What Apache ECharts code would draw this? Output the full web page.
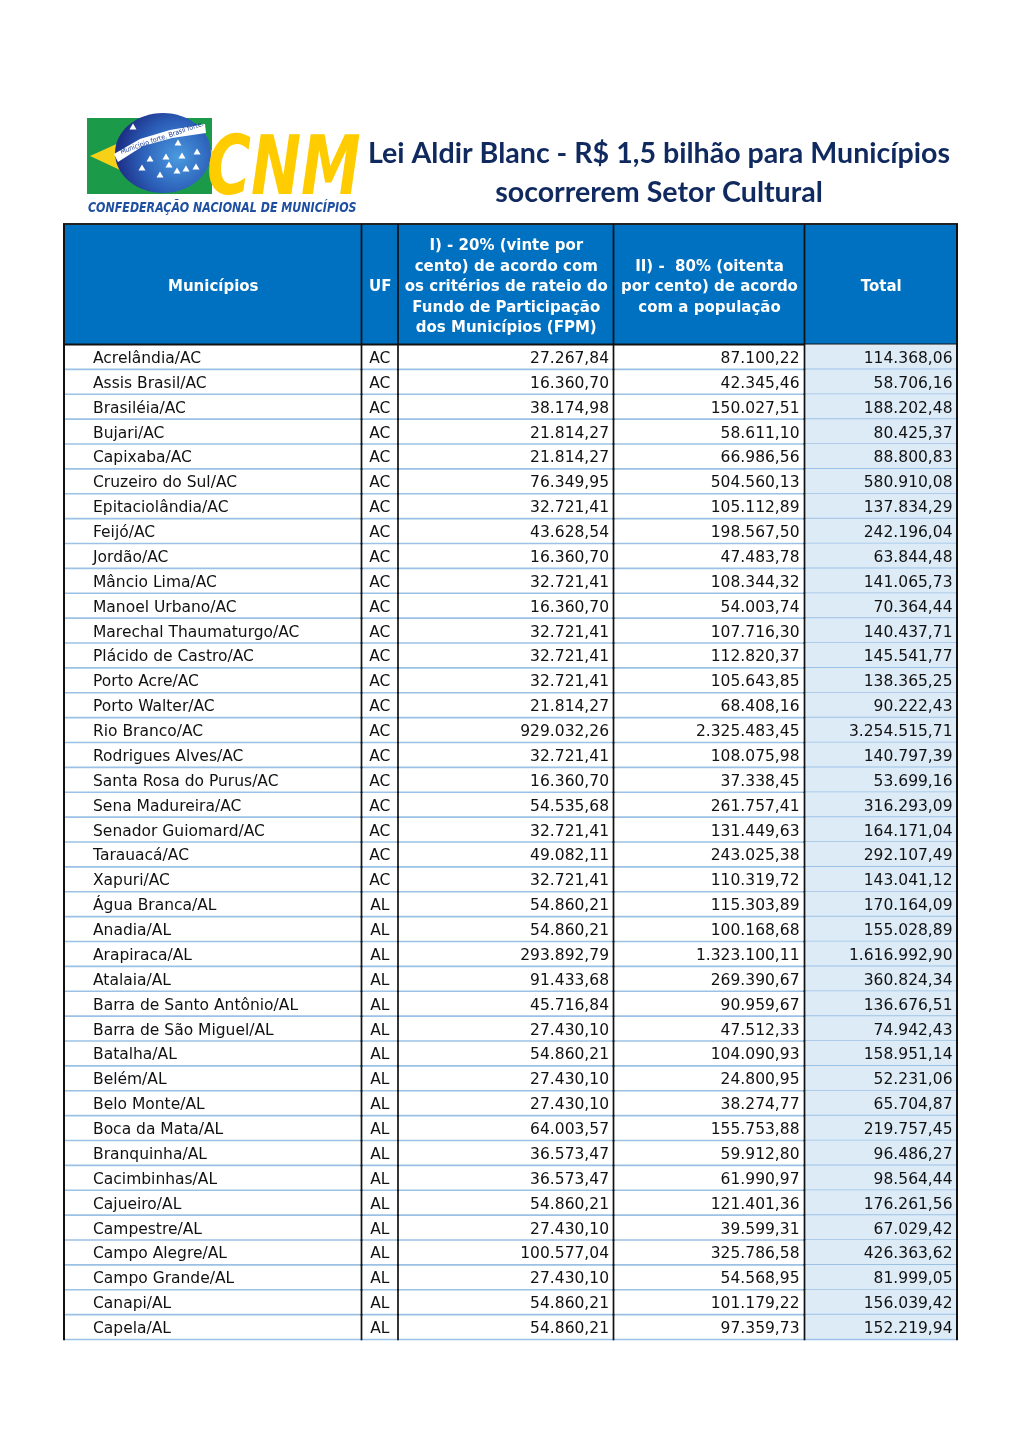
<!DOCTYPE html>
<html><head><meta charset="utf-8">
<script src="https://cdn.jsdelivr.net/npm/echarts@6/dist/echarts.min.js"></script>
<style>html,body{margin:0;padding:0;background:#fff}#c{width:1020px;height:1442px}</style>
</head><body><div id="c"></div>
<script>
const titleLines = ['Lei Aldir Blanc - R$ 1,5 bilhão para Municípios', 'socorrerem Setor Cultural'];
const headers = [
  'Municípios',
  'UF',
  'I) - 20% (vinte por\ncento) de acordo com\nos critérios de rateio do\nFundo de Participação\ndos Municípios (FPM)',
  'II) -  80% (oitenta\npor cento) de acordo\ncom a população',
  'Total'
];
const municipios = [
  'Acrelândia/AC','Assis Brasil/AC','Brasiléia/AC','Bujari/AC','Capixaba/AC','Cruzeiro do Sul/AC',
  'Epitaciolândia/AC','Feijó/AC','Jordão/AC','Mâncio Lima/AC','Manoel Urbano/AC','Marechal Thaumaturgo/AC',
  'Plácido de Castro/AC','Porto Acre/AC','Porto Walter/AC','Rio Branco/AC','Rodrigues Alves/AC',
  'Santa Rosa do Purus/AC','Sena Madureira/AC','Senador Guiomard/AC','Tarauacá/AC','Xapuri/AC',
  'Água Branca/AL','Anadia/AL','Arapiraca/AL','Atalaia/AL','Barra de Santo Antônio/AL',
  'Barra de São Miguel/AL','Batalha/AL','Belém/AL','Belo Monte/AL','Boca da Mata/AL','Branquinha/AL',
  'Cacimbinhas/AL','Cajueiro/AL','Campestre/AL','Campo Alegre/AL','Campo Grande/AL','Canapi/AL','Capela/AL'
];
const uf = [
  'AC','AC','AC','AC','AC','AC','AC','AC','AC','AC','AC','AC','AC','AC','AC','AC','AC','AC','AC','AC','AC','AC',
  'AL','AL','AL','AL','AL','AL','AL','AL','AL','AL','AL','AL','AL','AL','AL','AL','AL','AL'
];
const fpm = [
  27267.84,16360.70,38174.98,21814.27,21814.27,76349.95,32721.41,43628.54,16360.70,32721.41,16360.70,32721.41,
  32721.41,32721.41,21814.27,929032.26,32721.41,16360.70,54535.68,32721.41,49082.11,32721.41,
  54860.21,54860.21,293892.79,91433.68,45716.84,27430.10,54860.21,27430.10,27430.10,64003.57,36573.47,
  36573.47,54860.21,27430.10,100577.04,27430.10,54860.21,54860.21
];
const populacao = [
  87100.22,42345.46,150027.51,58611.10,66986.56,504560.13,105112.89,198567.50,47483.78,108344.32,54003.74,107716.30,
  112820.37,105643.85,68408.16,2325483.45,108075.98,37338.45,261757.41,131449.63,243025.38,110319.72,
  115303.89,100168.68,1323100.11,269390.67,90959.67,47512.33,104090.93,24800.95,38274.77,155753.88,59912.80,
  61990.97,121401.36,39599.31,325786.58,54568.95,101179.22,97359.73
];
const total = [
  114368.06,58706.16,188202.48,80425.37,88800.83,580910.08,137834.29,242196.04,63844.48,141065.73,70364.44,140437.71,
  145541.77,138365.25,90222.43,3254515.71,140797.39,53699.16,316293.09,164171.04,292107.49,143041.12,
  170164.09,155028.89,1616992.90,360824.34,136676.51,74942.43,158951.14,52231.06,65704.87,219757.45,96486.27,
  98564.44,176261.56,67029.42,426363.62,81999.05,156039.42,152219.94
];

// ---- layout (not data) ----
const colEdges = [0, 297.5, 334, 549.5, 740.5, 893];
const FONT = 'DejaVu Sans, Verdana, sans-serif';

function fmt(v) {
  const s = Math.abs(v).toFixed(2);
  const parts = s.split('.');
  return parts[0].replace(/\B(?=(\d{3})+(?!\d))/g, '.') + ',' + parts[1];
}

const bodyData = municipios.map((m, i) => [0, i]);

function renderBody(params, api) {
  const r = api.value(1);
  const c = api.coord([0, r]);
  const h = api.size([0, 1])[1];
  const y0 = c[1] - h / 2, y1 = y0 + h, ym = c[1] + 2;
  const xs = colEdges.map(e => api.coord([e, r])[0]);
  const ch = [];
  ch.push({ type: 'rect', shape: { x: xs[4], y: y0, width: xs[5] - xs[4], height: h }, style: { fill: '#ddebf7' } });
  ch.push({ type: 'line', shape: { x1: xs[0], y1: y1, x2: xs[5], y2: y1 }, style: { stroke: '#9bc2e6', lineWidth: 1.6 } });
  const ts = { fill: '#111', fontSize: 15.5, fontFamily: FONT, verticalAlign: 'middle' };
  ch.push({ type: 'text', style: Object.assign({ text: municipios[r], x: xs[0] + 29, y: ym, align: 'left' }, ts) });
  ch.push({ type: 'text', style: Object.assign({ text: uf[r], x: (xs[1] + xs[2]) / 2, y: ym, align: 'center' }, ts) });
  ch.push({ type: 'text', style: Object.assign({ text: fmt(fpm[r]), x: xs[3] - 4.5, y: ym, align: 'right' }, ts) });
  ch.push({ type: 'text', style: Object.assign({ text: fmt(populacao[r]), x: xs[4] - 5, y: ym, align: 'right' }, ts) });
  ch.push({ type: 'text', style: Object.assign({ text: fmt(total[r]), x: xs[5] - 4.5, y: ym, align: 'right' }, ts) });
  xs.forEach((x, k) => {
    ch.push({ type: 'line', shape: { x1: x, y1: y0 - 0.5, x2: x, y2: y1 + 0.8 }, style: { stroke: '#111', lineWidth: (k === 0 || k === 5) ? 2 : 1.7 } });
  });
  return { type: 'group', children: ch };
}

function renderHeader(params, api) {
  const c = api.coord([0, 0]);
  const h = api.size([0, 1])[1];
  const y0 = c[1] - h / 2, y1 = y0 + h;
  const xs = colEdges.map(e => api.coord([e, 0])[0]);
  const ch = [];
  ch.push({ type: 'rect', shape: { x: xs[0], y: y0, width: xs[5] - xs[0], height: h }, style: { fill: '#0070c0' } });
  headers.forEach((t, k) => {
    ch.push({ type: 'text', style: { text: t, x: (xs[k] + xs[k + 1]) / 2 + 0.5, y: c[1] + 3, align: 'center', verticalAlign: 'middle',
      lineHeight: 20.5, fill: '#ffffff', fontSize: 15, fontWeight: 'bold', fontFamily: FONT } });
  });
  ch.push({ type: 'line', shape: { x1: xs[0] - 1, y1: y0, x2: xs[5] + 1, y2: y0 }, style: { stroke: '#222', lineWidth: 2 } });
  ch.push({ type: 'line', shape: { x1: xs[0] - 1, y1: y1, x2: xs[5] + 1, y2: y1 }, style: { stroke: '#111', lineWidth: 1.8 } });
  xs.forEach((x, k) => {
    ch.push({ type: 'line', shape: { x1: x, y1: y0, x2: x, y2: y1 }, style: { stroke: '#111', lineWidth: (k === 0 || k === 5) ? 2 : 1.7 } });
  });
  return { type: 'group', children: ch };
}

// ---- logo ----
const stars = [[133,127],[178,143],[150,159],[166,157],[182,156],[197,152],[142,168],[169,165],[177,171],[186,169],[196,167],[160,175]];
const logo = [
  { type: 'rect', shape: { x: 87, y: 118, width: 125, height: 76 }, style: { fill: '#1b9a4a' } },
  { type: 'polygon', shape: { points: [[90, 156], [163, 123], [222, 156], [163, 190]] }, style: { fill: '#f7d117' } },
  { type: 'ellipse', shape: { cx: 163, cy: 153, rx: 48, ry: 40 },
    style: { fill: new echarts.graphic.RadialGradient(0.65, 0.55, 0.75, [{ offset: 0, color: '#4a9be0' }, { offset: 0.6, color: '#2c5fb8' }, { offset: 1, color: '#1d2f86' }]) } }
];
stars.forEach(p => {
  logo.push({ type: 'polygon', shape: { points: [[p[0], p[1] - 3.5], [p[0] + 3.5, p[1] + 2.5], [p[0] - 3.5, p[1] + 2.5]] }, style: { fill: '#ffffff' } });
});
logo.push({ type: 'polygon', shape: { points: [[114, 154], [140, 139], [170, 130], [205, 124], [206, 133], [172, 138], [143, 146], [118, 162]] }, style: { fill: '#ffffff' } });
logo.push({ type: 'text', x: 162, y: 138, rotation: 0.33, scaleX: 0.9, style: { text: 'Município forte. Brasil forte.', align: 'center', verticalAlign: 'middle', fontSize: 7, fontFamily: FONT, fill: '#1d3f99' } });
logo.push({ type: 'text', x: 207, y: 214, scaleX: 0.73, style: { text: 'CNM', fontSize: 82, fontWeight: 'bold', fontStyle: 'italic', fontFamily: FONT, fill: '#ffcc00', align: 'left', verticalAlign: 'bottom' } });
logo.push({ type: 'text', x: 88, y: 208, scaleX: 0.79, style: { text: 'CONFEDERAÇÃO NACIONAL DE MUNICÍPIOS', fontSize: 14, fontWeight: 'bold', fontStyle: 'italic', fontFamily: FONT, fill: '#1f4fa0', align: 'left', verticalAlign: 'middle' } });

const chart = echarts.init(document.getElementById('c'), null, { renderer: 'canvas' });
chart.setOption({
  animation: false,
  backgroundColor: '#ffffff',
  grid: [
    { left: 64, top: 224, width: 893, height: 120.5 },
    { left: 64, top: 344.5, width: 893, height: 995 }
  ],
  xAxis: [
    { type: 'value', gridIndex: 0, min: 0, max: 893, show: false },
    { type: 'value', gridIndex: 1, min: 0, max: 893, show: false }
  ],
  yAxis: [
    { type: 'category', gridIndex: 0, data: ['header'], show: false },
    { type: 'category', gridIndex: 1, data: municipios, inverse: true, show: false }
  ],
  graphic: logo.concat([
    { type: 'text', x: 659, y: 154, style: { text: titleLines[0], align: 'center', verticalAlign: 'middle', fontSize: 28.6, fontWeight: 'bold', fontFamily: 'Lato, sans-serif', fill: '#10295f' } },
    { type: 'text', x: 659, y: 193, style: { text: titleLines[1], align: 'center', verticalAlign: 'middle', fontSize: 28.6, fontWeight: 'bold', fontFamily: 'Lato, sans-serif', fill: '#10295f' } }
  ]),
  series: [
    { type: 'custom', xAxisIndex: 0, yAxisIndex: 0, data: [[0, 0]], encode: { x: 0, y: 1 }, renderItem: renderHeader, silent: true },
    { type: 'custom', xAxisIndex: 1, yAxisIndex: 1, data: bodyData, encode: { x: 0, y: 1 }, renderItem: renderBody, silent: true }
  ]
});
</script>
</body></html>
